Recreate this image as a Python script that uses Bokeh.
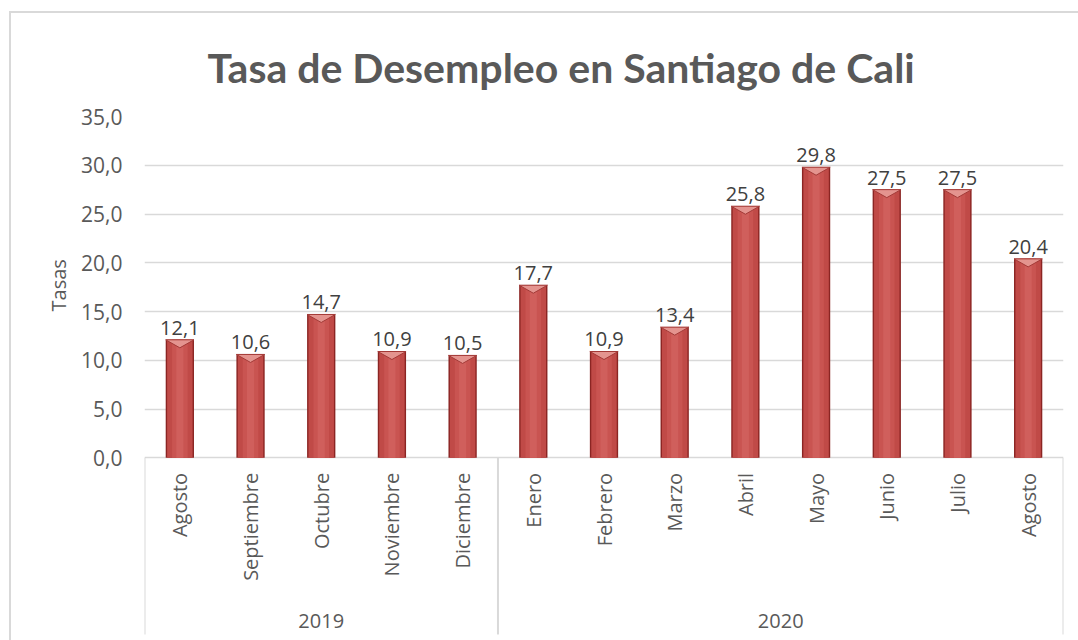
import math
from bokeh.plotting import figure
from bokeh.models import Range1d, FixedTicker, CustomJSTickFormatter, Title
from bokeh.core.properties import value
from bokeh.embed import file_html
from bokeh.resources import INLINE

# ---------------- data ----------------
chart_title = "Tasa de Desempleo en Santiago de Cali"
y_label = "Tasas"
months = ["Agosto", "Septiembre", "Octubre", "Noviembre", "Diciembre",
          "Enero", "Febrero", "Marzo", "Abril", "Mayo", "Junio", "Julio", "Agosto"]
years = ["2019", "2019", "2019", "2019", "2019",
         "2020", "2020", "2020", "2020", "2020", "2020", "2020", "2020"]
rates = [12.1, 10.6, 14.7, 10.9, 10.5, 17.7, 10.9, 13.4, 25.8, 29.8, 27.5, 27.5, 20.4]
y_ticks = [0, 5, 10, 15, 20, 25, 30, 35]

# ---------------- layout constants ----------------
W, H = 1067, 627
LEFT, TOP, RIGHT, BOTTOM = 133, 103, 17, 2
Y_MAX = 35.0
ZERO_PX = 340                       # pixels from frame top to value 0
FRAME_H = H - TOP - BOTTOM
PPU = ZERO_PX / Y_MAX               # pixels per data unit (y)
Y_MIN = -(FRAME_H - ZERO_PX) / PPU
N = len(months)

TEXT = "#595959"
GRID = "#D9D9D9"
FONT = "Open Sans"

p = figure(width=W, height=H, output_backend="svg", toolbar_location=None,
           x_range=Range1d(-0.5, N - 0.5), y_range=Range1d(Y_MIN, Y_MAX),
           x_axis_location=None, tools="",
           min_border_left=LEFT, min_border_top=TOP,
           min_border_right=RIGHT, min_border_bottom=BOTTOM)
p.outline_line_color = None
p.background_fill_color = "white"
p.border_fill_color = "white"
p.styles = {"box-sizing": "content-box", "margin-left": "9px", "margin-top": "11px",
            "border-left": "2px solid #D9D9D9", "border-top": "2px solid #D9D9D9"}

# titles
p.title.text = chart_title
p.title.align = "left"
p.title.offset = 63
p.title.standoff = 50
p.title.text_font = "Lato"
p.title.text_font_style = "bold"
p.title.text_font_size = "41px"
p.title.text_color = TEXT
p.add_layout(Title(text=y_label, align="left", offset=329, standoff=14,
                   text_font=FONT, text_font_style="normal", text_font_size="20px",
                   text_color=TEXT), "left")

# y axis
p.yaxis.ticker = FixedTicker(ticks=y_ticks)
p.yaxis.formatter = CustomJSTickFormatter(code="return tick.toFixed(1).replace('.', ',');")
p.yaxis.axis_line_color = None
p.yaxis.major_tick_line_color = None
p.yaxis.minor_tick_line_color = None
p.yaxis.major_tick_out = 0
p.yaxis.major_tick_in = 0
p.yaxis.major_label_standoff = 22
p.yaxis.major_label_text_font = FONT
p.yaxis.major_label_text_font_size = "21px"
p.yaxis.major_label_text_color = TEXT

p.xgrid.grid_line_color = None
p.ygrid.ticker = FixedTicker(ticks=y_ticks)
p.ygrid.grid_line_color = GRID
p.ygrid.grid_line_width = 1.5

# ---------------- bars ----------------
xs = list(range(N))
bw = 0.40
p.vbar(x=xs, top=rates, bottom=0, width=bw, fill_color="#8B2523", line_color=None)
p.vbar(x=xs, top=rates, bottom=0, width=bw * 0.90, fill_color="#C04A47", line_color=None)
p.vbar(x=xs, top=rates, bottom=0, width=bw * 0.55, fill_color="#C95451", line_color=None)
p.vbar(x=xs, top=rates, bottom=0, width=bw * 0.25, fill_color="#D05F5C", line_color=None)
bevel = 8 / PPU
p.patches(xs=[[x - bw / 2, x + bw / 2, x] for x in xs],
          ys=[[v, v, v - bevel] for v in rates],
          fill_color="#E4948F", line_color="#A33A37", line_width=1)

# data labels
labels = [f"{v:.1f}".replace(".", ",") for v in rates]
p.text(x=xs, y=[v + 5 / PPU for v in rates], text=labels,
       text_align="center", text_baseline="bottom",
       text_font=value(FONT), text_font_size="20px", text_color="#404040")

# category labels (rotated)
p.text(x=xs, y=[-15 / PPU] * N, text=months, angle=math.pi / 2,
       text_align="right", text_baseline="middle",
       text_font=value(FONT), text_font_size="20px", text_color=TEXT)

# group labels and separators
groups = []
for i, yv in enumerate(years):
    if not groups or groups[-1][0] != yv:
        groups.append([yv, i, i])
    else:
        groups[-1][2] = i
gx = [(g[1] + g[2]) / 2 for g in groups]
p.text(x=gx, y=[-163 / PPU] * len(groups), text=[g[0] for g in groups],
       text_align="center", text_baseline="middle",
       text_font=value(FONT), text_font_size="20px", text_color=TEXT)
sep_x = [groups[0][1] - 0.5] + [g[2] + 0.5 for g in groups]
p.segment(x0=sep_x, x1=sep_x, y0=[0] * len(sep_x), y1=[-176 / PPU] * len(sep_x),
          line_color=GRID, line_width=2)

open("out.html", "w").write(file_html(p, INLINE))
